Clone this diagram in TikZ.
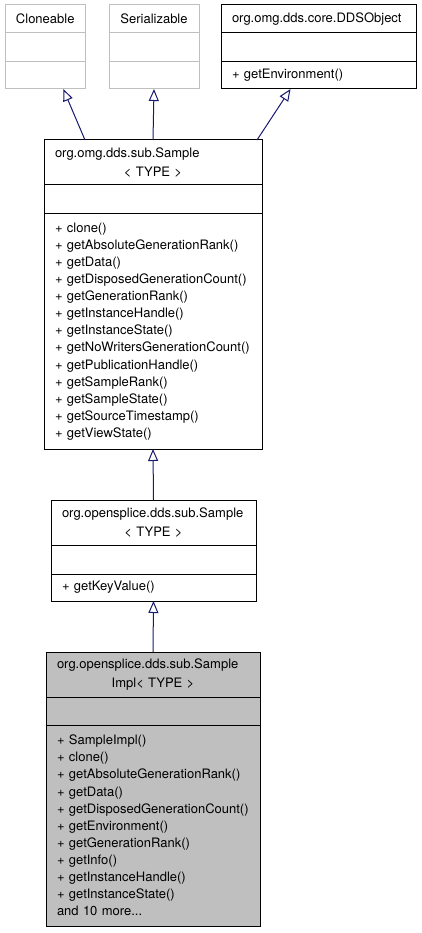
\documentclass[tikz,border=0pt]{standalone}
\usepackage{fontspec}
\setmainfont{TeX Gyre Heros}
\usetikzlibrary{arrows.meta,positioning}
\definecolor{edgeblue}{RGB}{25,25,112}
\definecolor{boxgray}{RGB}{191,191,191}

\begin{document}
\begin{tikzpicture}[x=1pt,y=-1pt,
  classpart/.style={draw,line width=1pt,rectangle,inner ysep=2pt,inner xsep=11pt,outer sep=0pt,anchor=north},
  classtitle/.style={classpart,anchor=north west,align=left,font=\fontsize{13}{18.5}\selectfont},
  classmembers/.style={classpart,align=left,font=\fontsize{13}{17.1}\selectfont},
  extclass/.style={draw=boxgray},
  inherit/.style={edgeblue,line width=1pt,-{Triangle[open,length=12pt,width=10pt]}}]
  \useasboundingbox (0,0) rectangle (421,933);

  % external classes
  \node[classtitle,extclass,align=center,minimum width=80pt,minimum height=28pt] (cloneT) at (5,5) {Cloneable};
  \node[classpart,extclass,minimum width=80pt,minimum height=29pt] (cloneA) at (cloneT.south) {};
  \node[classpart,extclass,minimum width=80pt,minimum height=27pt] (cloneM) at (cloneA.south) {};

  \node[classtitle,extclass,align=center,minimum width=90pt,minimum height=28pt] (serT) at (109,5) {Serializable};
  \node[classpart,extclass,minimum width=90pt,minimum height=29pt] (serA) at (serT.south) {};
  \node[classpart,extclass,minimum width=90pt,minimum height=27pt] (serM) at (serA.south) {};

  \node[classtitle,text width=173pt,minimum height=28pt] (ddsT) at (221,5) {org.omg.dds.core.DDSObject};
  \node[classpart,minimum width=195pt,minimum height=29pt] (ddsA) at (ddsT.south) {};
  \node[classmembers,text width=173pt,minimum height=27pt] (ddsM) at (ddsA.south) {+ getEnvironment()};

  % org.omg.dds.sub.Sample
  \node[classtitle,text width=196pt,minimum height=45pt] (sampleT) at (44,140)
    {org.omg.dds.sub.Sample\\\makebox[196pt]{< TYPE >}};
  \node[classpart,minimum width=218pt,minimum height=29pt] (sampleA) at (sampleT.south) {};
  \node[classmembers,text width=196pt,minimum height=235pt] (sampleM) at (sampleA.south)
    {+ clone()\\
     + getAbsoluteGenerationRank()\\
     + getData()\\
     + getDisposedGenerationCount()\\
     + getGenerationRank()\\
     + getInstanceHandle()\\
     + getInstanceState()\\
     + getNoWritersGenerationCount()\\
     + getPublicationHandle()\\
     + getSampleRank()\\
     + getSampleState()\\
     + getSourceTimestamp()\\
     + getViewState()};

  % org.opensplice.dds.sub.Sample
  \node[classtitle,text width=183pt,minimum height=45pt] (osT) at (51,500)
    {org.opensplice.dds.sub.Sample\\\makebox[183pt]{< TYPE >}};
  \node[classpart,minimum width=205pt,minimum height=29pt] (osA) at (osT.south) {};
  \node[classmembers,text width=183pt,minimum height=27pt] (osM) at (osA.south) {+ getKeyValue()};

  % org.opensplice.dds.sub.SampleImpl
  \node[classtitle,fill=boxgray,text width=192pt,minimum height=45pt] (implT) at (46,652)
    {org.opensplice.dds.sub.Sample\\\makebox[192pt]{Impl< TYPE >}};
  \node[classpart,fill=boxgray,minimum width=214pt,minimum height=28pt] (implA) at (implT.south) {};
  \node[classmembers,fill=boxgray,text width=192pt,minimum height=201pt] (implM) at (implA.south)
    {+ SampleImpl()\\
     + clone()\\
     + getAbsoluteGenerationRank()\\
     + getData()\\
     + getDisposedGenerationCount()\\
     + getEnvironment()\\
     + getGenerationRank()\\
     + getInfo()\\
     + getInstanceHandle()\\
     + getInstanceState()\\
     and 10 more...};

  % inheritance
  \draw[inherit] ([xshift=41pt]sampleT.north west) -- ([xshift=18pt]cloneM.south);
  \draw[inherit] (sampleT.north) -- (serM.south);
  \draw[inherit] ([xshift=-5pt]sampleT.north east) -- ([xshift=-28pt]ddsM.south);
  \draw[inherit] (osT.north) -- (sampleM.south);
  \draw[inherit] (implT.north) -- (osM.south);
\end{tikzpicture}
\end{document}
